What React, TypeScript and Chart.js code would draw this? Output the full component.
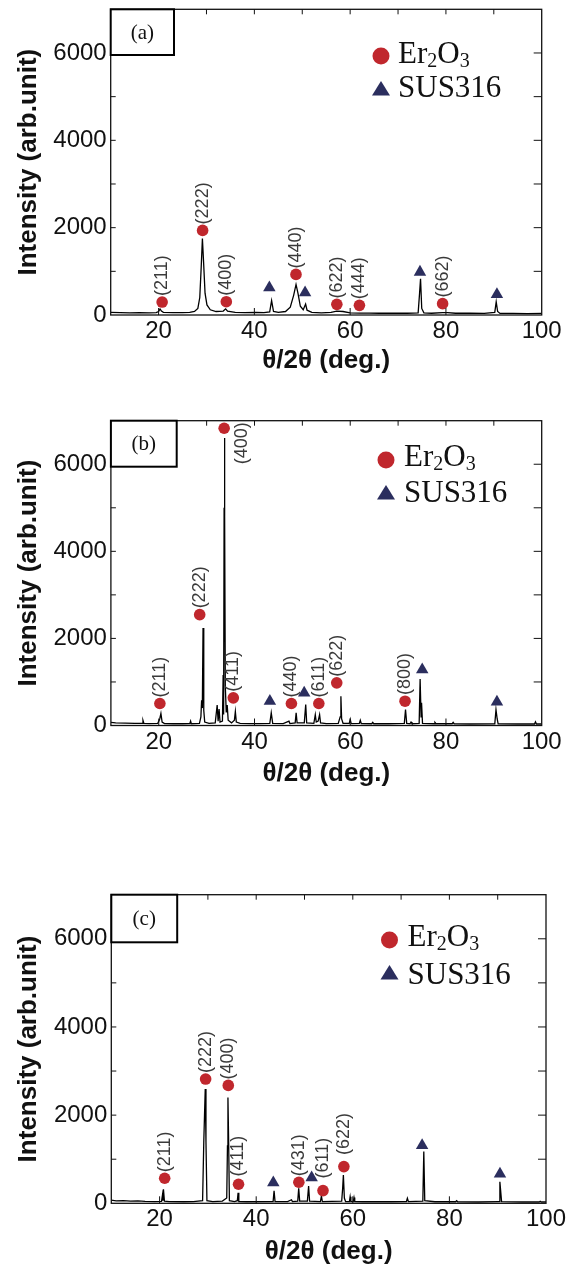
import React, { useEffect, useRef } from 'react';
import { Chart, registerables } from 'chart.js';

Chart.register(...registerables);

type Pt = [number, number];
type Lbl = [number, number, string];

// ---------------- data ----------------
const xTickValues = [20, 40, 60, 80, 100];
const yTickValues = [0, 2000, 4000, 6000];
const yTickMarks = [1000, 2000, 3000, 4000, 5000, 6000];
const xTopTickMarks = [20, 30, 40, 50, 60, 70, 80, 90];
const xBottomTickMarks = [20, 40, 60, 80];
const xTitle = 'θ/2θ (deg.)';
const yTitle = 'Intensity (arb.unit)';
const legendErParts = ['Er', '2', 'O', '3'];
const legendSus = 'SUS316';

// Panel (a)
const specA: Pt[] = [
  [10, 60], [12, 55], [14, 50], [16, 55], [18, 50], [19.5, 55], [20.0, 80], [20.3, 140], [20.6, 90], [21, 60],
  [23, 55], [25, 55], [26.5, 60], [27.5, 80], [28.2, 150], [28.6, 400], [28.9, 1100], [29.15, 1750], [29.4, 1200],
  [29.7, 500], [30.1, 230], [30.8, 120], [32, 80], [33.5, 90], [34.0, 140], [34.4, 90], [36, 60], [38, 55],
  [40.3, 60], [42, 55], [43.2, 70], [43.6, 330], [44.0, 80], [45, 60], [46.5, 80], [47.5, 180], [48.2, 450],
  [48.7, 700], [49.1, 500], [49.6, 200], [50.2, 120], [50.7, 250], [51.0, 110], [52, 60], [54, 50], [56, 60],
  [57.2, 90], [58.5, 80], [60, 50], [62, 45], [64, 45], [66, 40], [68, 40], [70, 40], [72, 40], [74.2, 50],
  [74.5, 500], [74.7, 830], [74.95, 150], [75.4, 50], [77, 40], [79.3, 55], [80.3, 55], [82, 40], [85, 40],
  [88, 35], [90.2, 60], [90.5, 300], [90.8, 80], [91.3, 35], [94, 35], [97, 30], [100, 35],
];
const erA: Pt[] = [
  [20.74, 297], [29.19, 1937], [34.14, 305], [48.69, 930], [57.22, 244], [61.94, 221], [79.31, 260],
];
const susA: Pt[] = [[43.13, 625], [50.59, 511], [74.58, 983], [90.65, 470]];
const hklA: Lbl[] = [
  [20.74, 435, '(211)'], [29.19, 2075, '(222)'], [34.14, 440, '(400)'], [48.69, 1065, '(440)'],
  [57.22, 380, '(622)'], [61.94, 360, '(444)'], [79.31, 400, '(662)'],
];

// Panel (b)
const specB: Pt[] = [
  [10, 70], [11, 60], [13, 55], [15, 50], [16.5, 50], [16.7, 120], [16.9, 50], [18, 45], [19.8, 50], [20.2, 150],
  [20.45, 275], [20.7, 80], [21.2, 45], [23, 40], [25, 40], [26.5, 45], [26.65, 100], [26.8, 40], [28.5, 50],
  [28.8, 200], [28.95, 580], [29.1, 400], [29.25, 2240], [29.4, 350], [29.6, 80], [30.5, 50], [31.8, 60],
  [32.2, 470], [32.4, 100], [32.6, 380], [32.8, 80], [33.3, 100], [33.45, 1160], [33.55, 250], [33.65, 5000],
  [33.72, 6600], [33.8, 4800], [33.9, 900], [34.1, 300], [34.3, 470], [34.5, 120], [35.2, 60], [35.8, 120],
  [36.0, 320], [36.2, 80], [37, 50], [39, 45], [41, 45], [43.2, 50], [43.5, 290], [43.8, 50], [46, 45],
  [47.2, 100], [47.4, 45], [48.5, 60], [48.7, 290], [48.9, 60], [50.4, 60], [50.7, 480], [50.9, 60], [52.4, 50],
  [52.7, 250], [52.9, 80], [53.3, 100], [53.6, 250], [53.8, 60], [55, 45], [57.5, 50], [57.9, 200], [58.05, 670],
  [58.2, 150], [58.5, 50], [59.8, 50], [60.0, 140], [60.2, 45], [61.9, 50], [62.1, 120], [62.3, 45], [64.5, 40],
  [64.7, 70], [64.9, 40], [68, 40], [71.3, 50], [71.55, 365], [71.8, 50], [72.5, 40], [72.7, 80], [72.9, 40],
  [74.4, 50], [74.6, 1070], [74.8, 200], [74.9, 520], [75.1, 50], [77.5, 40], [77.7, 70], [77.9, 40], [81.3, 40],
  [81.5, 70], [81.7, 40], [85, 35], [90.2, 40], [90.45, 365], [90.7, 150], [90.9, 40], [95, 35], [98.5, 35],
  [98.7, 85], [98.9, 35], [100, 35],
];
const erB: Pt[] = [
  [20.23, 505], [28.55, 2546], [33.66, 6827], [35.57, 635], [47.71, 505], [53.44, 505], [57.18, 979], [71.45, 558],
];
const susB: Pt[] = [[43.21, 558], [50.38, 749], [75.04, 1284], [90.65, 540]];
const hklB: Lbl[] = [
  [20.23, 645, '(211)'], [28.6, 2690, '(222)'], [37.4, 6000, '(400)'], [35.57, 775, '(411)'],
  [47.71, 645, '(440)'], [53.44, 645, '(611)'], [57.18, 1120, '(622)'], [71.45, 700, '(800)'],
];

// Panel (c)
const specC: Pt[] = [
  [10, 70], [11, 55], [12.5, 60], [14, 50], [15.5, 55], [17, 45], [19, 40], [20.4, 45], [20.6, 190], [20.7, 60],
  [20.8, 317], [21.0, 50], [22, 40], [25, 35], [27, 40], [28.9, 60], [29.15, 1400], [29.3, 2000], [29.45, 2590],
  [29.6, 1400], [29.8, 60], [31, 40], [33, 50], [33.9, 120], [34.05, 1300], [34.15, 2400], [34.3, 1350],
  [34.45, 60], [35.5, 40], [36.1, 60], [36.25, 240], [36.4, 40], [38, 35], [43.5, 40], [43.7, 286], [43.9, 40],
  [46.5, 40], [47.3, 80], [47.5, 40], [48.6, 50], [48.8, 340], [49.0, 50], [50.6, 50], [50.85, 392], [51.05, 50],
  [53.3, 40], [53.5, 166], [53.7, 40], [57.7, 50], [57.9, 340], [58.05, 642], [58.25, 120], [58.5, 40], [59.3, 40],
  [59.45, 150], [59.6, 40], [60.1, 40], [60.25, 130], [60.4, 40], [62, 35], [65, 35], [68, 35], [71.1, 40],
  [71.3, 115], [71.5, 40], [74.5, 50], [74.7, 1174], [74.9, 60], [77, 35], [79, 35], [81.3, 35], [81.5, 60],
  [81.7, 35], [86, 30], [90.3, 40], [90.45, 490], [90.6, 300], [90.8, 40], [95, 30], [98.6, 30], [98.8, 45],
  [99, 30], [100, 30],
];
const erC: Pt[] = [
  [21.05, 568], [29.53, 2818], [34.22, 2674], [36.34, 432], [48.83, 477], [53.83, 288], [58.15, 833],
];
const susC: Pt[] = [[43.54, 470], [51.48, 583], [74.35, 1311], [90.47, 667]];
const hklC: Lbl[] = [
  [21.05, 705, '(211)'], [29.53, 2955, '(222)'], [34.22, 2810, '(400)'], [36.34, 610, '(411)'],
  [48.83, 615, '(431)'], [53.83, 565, '(611)'], [58.15, 1095, '(622)'],
];

// ---------------- styles / layout ----------------
const ER_COLOR = '#c0272d';
const SUS_COLOR = '#2b2e5e';
const SANS = '"Liberation Sans", Arial, sans-serif';
const SERIF = '"Liberation Serif", "Times New Roman", serif';

interface PanelCfg {
  tag: string;
  spec: Pt[];
  er: Pt[];
  sus: Pt[];
  hkl: Lbl[];
  canvasTop: number;
  canvasH: number;
  plot: { l: number; r: number; t: number; b: number };
  xTitleY: number;
  box: { w: number; h: number };
  legend: { cx: number; cy1: number; cy2: number; tx: number; b1: number; b2: number };
}

const panels: PanelCfg[] = [
  {
    tag: '(a)', spec: specA, er: erA, sus: susA, hkl: hklA,
    canvasTop: 0, canvasH: 385,
    plot: { l: 110.7, r: 541.7, t: 9.3, b: 315 },
    xTitleY: 361,
    box: { w: 63.3, h: 45.7 },
    legend: { cx: 381, cy1: 56, cy2: 89, tx: 398, b1: 63, b2: 97 },
  },
  {
    tag: '(b)', spec: specB, er: erB, sus: susB, hkl: hklB,
    canvasTop: 392, canvasH: 400,
    plot: { l: 110.9, r: 541.7, t: 420.7, b: 725.5 },
    xTitleY: 774,
    box: { w: 65.8, h: 46 },
    legend: { cx: 386, cy1: 460, cy2: 493, tx: 404, b1: 466, b2: 502 },
  },
  {
    tag: '(c)', spec: specC, er: erC, sus: susC, hkl: hklC,
    canvasTop: 866, canvasH: 400,
    plot: { l: 111.3, r: 546, t: 894.7, b: 1203.3 },
    xTitleY: 1252,
    box: { w: 65.9, h: 47.6 },
    legend: { cx: 389.5, cy1: 940, cy2: 973, tx: 407.5, b1: 946, b2: 983.5 },
  },
];

function makeDeco(p: PanelCfg) {
  return {
    id: 'deco' + p.tag,
    afterDatasetsDraw(chart: any) {
      const ctx: CanvasRenderingContext2D = chart.ctx;
      const { left, right, top, bottom } = chart.chartArea;
      const xs = chart.scales.x;
      const ys = chart.scales.y;
      const off = p.canvasTop;
      ctx.save();
      // frame
      ctx.strokeStyle = '#111';
      ctx.lineWidth = 1.3;
      ctx.strokeRect(left, top, right - left, bottom - top);
      // tick marks (inward)
      ctx.lineWidth = 1;
      const line = (x1: number, y1: number, x2: number, y2: number) => {
        ctx.beginPath();
        ctx.moveTo(x1, y1);
        ctx.lineTo(x2, y2);
        ctx.stroke();
      };
      for (const v of yTickMarks) {
        const y = ys.getPixelForValue(v);
        line(left, y, left + 5, y);
        line(right - 8, y, right, y);
      }
      for (const v of xTopTickMarks) {
        const x = xs.getPixelForValue(v);
        line(x, top, x, top + 5);
      }
      for (const v of xBottomTickMarks) {
        const x = xs.getPixelForValue(v);
        line(x, bottom, x, bottom - 7);
      }
      // hkl labels
      ctx.fillStyle = '#3a3a3a';
      ctx.font = '18px ' + SANS;
      ctx.textAlign = 'left';
      ctx.textBaseline = 'middle';
      for (const [x, y, t] of p.hkl) {
        ctx.save();
        ctx.translate(xs.getPixelForValue(x), ys.getPixelForValue(y));
        ctx.rotate(-Math.PI / 2);
        ctx.fillText(t, 0, 0);
        ctx.restore();
      }
      // panel tag box
      ctx.fillStyle = '#fff';
      ctx.fillRect(left, top, p.box.w, p.box.h);
      ctx.strokeStyle = '#000';
      ctx.lineWidth = 2;
      ctx.strokeRect(left, top, p.box.w, p.box.h);
      ctx.fillStyle = '#111';
      ctx.font = '21px ' + SERIF;
      ctx.textAlign = 'center';
      ctx.textBaseline = 'middle';
      ctx.fillText(p.tag, left + p.box.w / 2, top + p.box.h / 2 + 1);
      // legend
      const lg = p.legend;
      ctx.fillStyle = ER_COLOR;
      ctx.beginPath();
      ctx.arc(lg.cx, lg.cy1 - off, 8.5, 0, Math.PI * 2);
      ctx.fill();
      ctx.fillStyle = SUS_COLOR;
      ctx.beginPath();
      ctx.moveTo(lg.cx, lg.cy2 - off - 8);
      ctx.lineTo(lg.cx + 9, lg.cy2 - off + 6.5);
      ctx.lineTo(lg.cx - 9, lg.cy2 - off + 6.5);
      ctx.closePath();
      ctx.fill();
      ctx.fillStyle = '#111';
      ctx.textAlign = 'left';
      ctx.textBaseline = 'alphabetic';
      let tx = lg.tx;
      legendErParts.forEach((s, i) => {
        const sub = i % 2 === 1;
        ctx.font = (sub ? '20px ' : '31px ') + SERIF;
        ctx.fillText(s, tx, lg.b1 - off + (sub ? 4 : 0));
        tx += ctx.measureText(s).width;
      });
      ctx.font = '31px ' + SERIF;
      ctx.fillText(legendSus, lg.tx, lg.b2 - off);
      ctx.restore();
    },
  };
}

function buildConfig(p: PanelCfg): any {
  const titleLH = 26;
  return {
    type: 'scatter',
    data: {
      datasets: [
        {
          label: 'Er2O3',
          data: p.er.map(([x, y]) => ({ x, y })),
          pointStyle: 'circle',
          pointRadius: 5.8,
          pointBackgroundColor: ER_COLOR,
          pointBorderWidth: 0,
          showLine: false,
          clip: false,
        },
        {
          label: 'SUS316',
          data: p.sus.map(([x, y]) => ({ x, y })),
          pointStyle: 'triangle',
          pointRadius: 7.2,
          pointBackgroundColor: SUS_COLOR,
          pointBorderWidth: 0,
          showLine: false,
          clip: false,
        },
        {
          label: 'XRD',
          data: p.spec.map(([x, y]) => ({ x, y })),
          showLine: true,
          pointRadius: 0,
          borderColor: '#000',
          borderWidth: 1.3,
          tension: 0,
        },
      ],
    },
    options: {
      animation: false,
      responsive: false,
      devicePixelRatio: 1,
      events: [],
      layout: {
        autoPadding: false,
        padding: { left: 0, top: p.plot.t - p.canvasTop, right: 573 - p.plot.r, bottom: 0 },
      },
      plugins: { legend: { display: false }, tooltip: { enabled: false } },
      scales: {
        x: {
          type: 'linear',
          min: 10,
          max: 100,
          grid: { display: false, drawTicks: false },
          border: { display: false },
          afterBuildTicks: (s: any) => {
            s.ticks = xTickValues.map((v) => ({ value: v }));
          },
          afterFit: (s: any) => {
            s.height = p.canvasTop + p.canvasH - p.plot.b;
            s.paddingLeft = 0;
            s.paddingRight = 0;
          },
          ticks: {
            padding: 2,
            maxRotation: 0,
            autoSkip: false,
            color: '#111',
            font: { size: 24, family: SANS, lineHeight: 1.2 },
            callback: (v: any) => String(v),
          },
          title: {
            display: true,
            text: xTitle,
            color: '#111',
            font: { size: 26, weight: 'bold', family: SANS, lineHeight: 1 },
            padding: { top: 0, bottom: p.canvasTop + p.canvasH - p.xTitleY - titleLH / 2 },
          },
        },
        y: {
          type: 'linear',
          min: 0,
          max: 7000,
          grid: { display: false, drawTicks: false },
          border: { display: false },
          afterBuildTicks: (s: any) => {
            s.ticks = yTickValues.map((v) => ({ value: v }));
          },
          afterFit: (s: any) => {
            s.width = p.plot.l;
            s.paddingTop = 0;
            s.paddingBottom = 0;
          },
          ticks: {
            padding: 4,
            autoSkip: false,
            color: '#111',
            font: { size: 24, family: SANS, lineHeight: 1.2 },
            callback: (v: any) => String(v),
          },
          title: {
            display: true,
            text: yTitle,
            color: '#111',
            font: { size: 26, weight: 'bold', family: SANS, lineHeight: 1 },
            padding: { top: 16, bottom: 0 },
          },
        },
      },
    },
    plugins: [makeDeco(p)],
  };
}

function Panel({ p }: { p: PanelCfg }) {
  const ref = useRef<HTMLCanvasElement>(null);
  useEffect(() => {
    if (!ref.current) return;
    const chart = new Chart(ref.current, buildConfig(p));
    return () => chart.destroy();
  }, [p]);
  return (
    <canvas
      ref={ref}
      width={573}
      height={p.canvasH}
      style={{ position: 'absolute', left: 0, top: p.canvasTop, width: 573, height: p.canvasH }}
    />
  );
}

export default function App() {
  return (
    <div style={{ position: 'absolute', left: 0, top: 0, width: 573, height: 1266, background: '#fff', overflow: 'hidden' }}>
      {panels.map((p) => (
        <Panel key={p.tag} p={p} />
      ))}
    </div>
  );
}
